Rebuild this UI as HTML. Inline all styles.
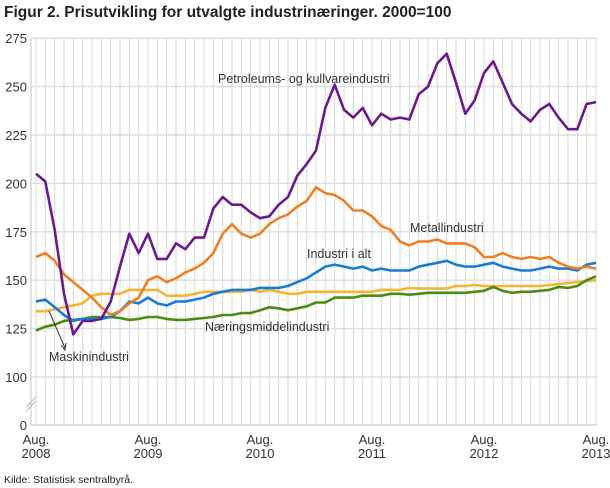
<!DOCTYPE html>
<html><head><meta charset="utf-8"><style>
body{margin:0;background:#fff;font-family:"Liberation Sans","DejaVu Sans",sans-serif;}
svg{display:block}
</style></head><body>
<svg width="610" height="488" viewBox="0 0 610 488" font-family="Liberation Sans, DejaVu Sans, sans-serif">
<text x="4" y="17" font-size="15.5" font-weight="bold" fill="#222">Figur 2. Prisutvikling for utvalgte industrinæringer. 2000=100</text>
<g id="grid"></g>
<g id="axes"></g>
<g id="series"></g>
<g font-size="12.5" fill="#333">
<text x="218" y="83">Petroleums- og kullvareindustri</text>
<text x="410" y="232">Metallindustri</text>
<text x="307" y="258">Industri i alt</text>
<text x="205" y="331">Næringsmiddelindustri</text>
<text x="49" y="361">Maskinindustri</text>
<line x1="49" y1="311" x2="65" y2="348" stroke="#333" stroke-width="1"/>
<path d="M61,345 L65,350 L66,343" fill="none" stroke="#333" stroke-width="1"/>
</g>
<text x="4" y="483" font-size="10.5" fill="#222">Kilde: Statistisk sentralbyrå.</text>
</svg>
<script>
const yTicks=[100,125,150,175,200,225,250,275];
const xTickIdx=[0,12,24,36,48,60];
const xTickYears=["2008","2009","2010","2011","2012","2013"];
const petroleum=[205,201,176,143,122,129,129,130,139,157,174,164,174,161,161,169,166,172,172,187,193,189,189,185,182,183,189,193,204,210,217,239,251,238,234,239,230,236,233,234,233,246,250,262,267,252,236,243,257,263,252,241,236,232,238,241,234,228,228,241,242];
const metall=[162,164,160,153,149,145,141,136,132,134,138,141,150,152,149,151,154,156,159,164,174,179,174,172,174,179,182,184,188,191,198,195,194,191,186,186,183,178,176,170,168,170,170,171,169,169,169,167,162,162,164,162,161,162,161,162,159,157,156,157,156];
const industri=[139,140,136,132,129,130,130,130,131,134,139,138,141,138,137,139,139,140,141,143,144,145,145,145,146,146,146,147,149,151,154,157,158,157,156,157,155,156,155,155,155,157,158,159,160,158,157,157,158,159,157,156,155,155,156,157,156,156,155,158,159];
const maskin=[134,134,135,136,137,138,142,143,143,143,145,145,145,145,142,142,142,143,144,144,144,144,144,145,144,145,144,143,143,144,144,144,144,144,144,144,144,145,145,145,146,145.7,145.7,145.7,145.7,147,147,147.5,147,147,147,147,147,147,147,147.5,148,148.5,149,149.5,150];
const naering=[124,126,127,129,129.5,130,131,131,131,130.5,129.5,130,131,131,130,129.5,129.5,130,130.5,131,132,132,133,133,134.5,136,135.5,134.5,135.5,136.5,138.5,138.5,141,141,141,142,142,142,143,143,142.5,143,143.5,143.5,143.5,143.5,143.5,144,144.5,146.5,144.5,143.5,144,144,144.5,145,146.5,146,147,150,152];
const seriesColors={petroleum:"#6b1a8e",metall:"#f07f23",industri:"#1a7bd6",maskin:"#f2b634",naering:"#4b8c11"};
const NS="http://www.w3.org/2000/svg";
const X0=36,DX=9.333,Y100=377,PX=48.4/25;
function xs(i){return X0+i*DX;}
function ys(v){return Y100-(v-100)*PX;}
function mk(t,a,p){const e=document.createElementNS(NS,t);for(const k in a)e.setAttribute(k,a[k]);p.appendChild(e);return e;}
const grid=document.getElementById('grid'),axes=document.getElementById('axes'),ser=document.getElementById('series');
for(let i=0;i<petroleum.length;i++){
 const l=mk('line',{x1:xs(i),x2:xs(i),y1:ys(275),y2:425,stroke:'#dedede','stroke-width':1.2},grid);
 
 
}
yTicks.forEach(v=>{
 const l=mk('line',{x1:31,x2:597,y1:ys(v),y2:ys(v),stroke:'#dcdcdc','stroke-width':1.4},grid);
 
 
 const t=mk('text',{x:27,y:ys(v)+5,'text-anchor':'end','font-size':13,fill:'#333'},axes);
 t.textContent=v;
 
 
});
const z=mk('text',{x:27,y:430,'text-anchor':'end','font-size':13,fill:'#333'},axes);
z.textContent='0';


const ax=mk('line',{x1:31,x2:31,y1:ys(275),y2:425,stroke:'#ccc','stroke-width':1.2},axes);


const bl=mk('line',{x1:31,x2:597,y1:425,y2:425,stroke:'#ccc','stroke-width':1.2},axes);


const br=mk('path',{d:'M26,407 L36,397 M26,411 L36,401',stroke:'#bbb','stroke-width':1.2,fill:'none'},axes);


xTickIdx.forEach((idx,k)=>{
 const t1=mk('text',{x:xs(idx),y:444,'text-anchor':'middle','font-size':13,fill:'#333'},axes);
 t1.textContent='Aug.';
 
 
 const t2=mk('text',{x:xs(idx),y:458,'text-anchor':'middle','font-size':13,fill:'#333'},axes);
 t2.textContent=xTickYears[k];
 
 
});
function draw(arr,color,name){
 const d=arr.map((v,i)=>(i?'L':'M')+xs(i).toFixed(1)+','+ys(v).toFixed(1)).join(' ');
 const p=mk('path',{d:d,fill:'none',stroke:color,'stroke-width':2.6,'stroke-linejoin':'round'},ser);
 
 
}
draw(maskin,seriesColors.maskin,'line-maskinindustri');
draw(naering,seriesColors.naering,'line-naeringsmiddelindustri');
draw(industri,seriesColors.industri,'line-industri-i-alt');
draw(metall,seriesColors.metall,'line-metallindustri');
draw(petroleum,seriesColors.petroleum,'line-petroleumsindustri');
</script>
</body></html>
